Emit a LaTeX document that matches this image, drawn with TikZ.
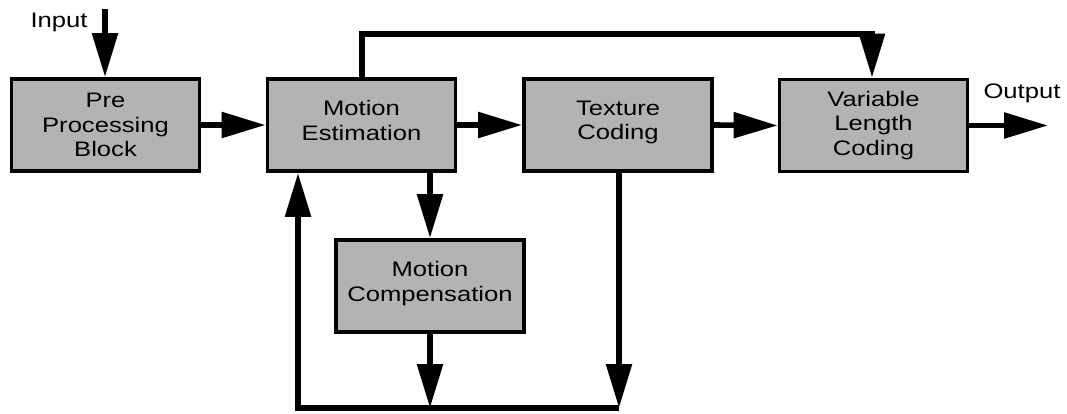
\documentclass[tikz,border=0pt]{standalone}
\usepackage{fontspec}
\setmainfont{Liberation Sans}[FakeStretch=1.22]
\usetikzlibrary{arrows.meta}
\definecolor{boxgray}{RGB}{179,179,179}
\tikzset{
  block/.style={draw=black, fill=boxgray, line width=3.8pt, rectangle,
    minimum width=188pt, minimum height=92pt, inner sep=0pt,
    align=center, font=\fontsize{21}{24.5}\selectfont},
  twoline/.style={text depth=9pt},
  flow/.style={line width=5.6pt, draw=black},
  flowarrow/.style={flow, -{Triangle[length=44pt,width=25pt]}},
  lbl/.style={font=\fontsize{21}{24}\selectfont, inner sep=0pt}
}
\begin{document}
\begin{tikzpicture}[x=1pt,y=-1pt]
  \useasboundingbox (0,0) rectangle (1067,413);

  % processing blocks
  \node[block] (pre) at (105.5,125) {Pre\\Processing\\Block};
  \node[block,twoline] (me)  at (361.5,125) {Motion\\Estimation};
  \node[block,twoline] (tc)  at (618,125)   {Texture\\Coding};
  \node[block] (vlc) at (873.5,125.5) {Variable\\Length\\Coding};
  \node[block,twoline] (mc)  at (430,286)   {Motion\\Compensation};

  % external labels
  \node[lbl] (inlbl)  at (59,22)   {Input};
  \node[lbl] (outlbl) at (1022,93) {Output};

  % routing points
  \coordinate (insrc) at (105,9);
  \coordinate (outend) at (1048,125.5);
  \coordinate (tl) at (362,34);
  \coordinate (tr) at (872,34);
  \coordinate (bl) at (298,408);
  \coordinate (bm) at (430,408);
  \coordinate (br) at (619,408);
  \coordinate (mesrc) at (430,173);

  % main chain
  \draw[flowarrow] (insrc) -- (insrc |- pre.north);
  \draw[flowarrow] (pre.east) -- (me.west);
  \draw[flowarrow] (me.east) -- (tc.west);
  \draw[flowarrow] (tc.east) -- (vlc.west);
  \draw[flowarrow] (vlc.east) -- (outend);

  % bypass over the top
  \draw[flowarrow] (tl |- me.north) -- (tl) -- (tr) -- (tr |- vlc.north);

  % motion compensation branch
  \draw[flowarrow] (mesrc) -- (mesrc |- mc.north);
  \draw[flowarrow] (mc.south) -- (bm);
  \draw[flowarrow] (br |- tc.south) -- (br);

  % feedback loop
  \draw[flowarrow] (br) -- (bl) -- (bl |- me.south);
\end{tikzpicture}
\end{document}
